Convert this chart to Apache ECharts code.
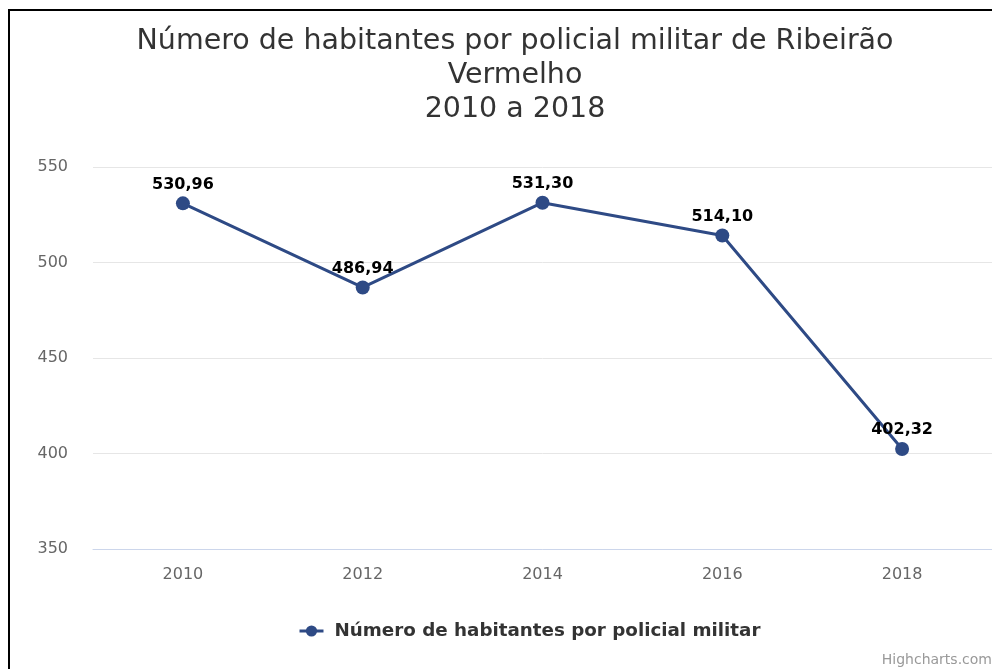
<!DOCTYPE html>
<html>
<head>
<meta charset="utf-8">
<script src="https://cdn.jsdelivr.net/npm/echarts@6/dist/echarts.min.js"></script>
<style>
    html, body { margin: 0; padding: 0; background: #fff; }
    #chart { width: 992px; height: 669px; }
</style>
</head>
<body>
<div id="chart"></div>
<script>
var anos = ['2010', '2012', '2014', '2016', '2018'];
var habitantesPorPolicial = [530.96, 486.94, 531.30, 514.10, 402.32];
var yTicks = [350, 400, 450, 500, 550];

var chart = echarts.init(document.getElementById('chart'));

var option = {
    backgroundColor: '#fff',
    textStyle: { fontFamily: 'DejaVu Sans' },
    title: {
        text: 'Número de habitantes por policial militar de Ribeirão\nVermelho\n2010 a 2018',
        left: 510,
        top: 20,
        textAlign: 'center',
        textStyle: {
            fontFamily: 'DejaVu Sans',
            fontSize: 28.5,
            fontWeight: 'normal',
            color: '#333',
            lineHeight: 34
        }
    },
    graphic: [
        {
            type: 'rect',
            shape: { x: 9, y: 10, width: 1100, height: 800 },
            style: { fill: 'none', stroke: '#000', lineWidth: 2 },
            silent: true
        },
        {
            type: 'text',
            right: 0,
            bottom: 2,
            style: { text: 'Highcharts.com', fill: '#999', fontSize: 14, fontFamily: 'DejaVu Sans' }
        }
    ],
    legend: {
        left: 293,
        top: 617,
        itemWidth: 24,
        itemHeight: 14,
        lineStyle: { width: 3 },
        textStyle: { fontSize: 18.3, fontWeight: 'bold', color: '#333', fontFamily: 'DejaVu Sans', padding: [0, 0, 0, 6] },
        data: ['Número de habitantes por policial militar']
    },
    grid: {
        left: 93,
        top: 167,
        width: 902,
        height: 382,
        containLabel: false
    },
    xAxis: {
        type: 'category',
        data: anos,
        boundaryGap: true,
        axisLine: { lineStyle: { color: '#ccd6eb', width: 1 } },
        axisTick: { show: false },
        axisLabel: { color: '#666', fontSize: 16, margin: 18 }
    },
    yAxis: {
        type: 'value',
        min: yTicks[0],
        max: yTicks[yTicks.length - 1],
        interval: 50,
        axisLine: { show: false },
        axisTick: { show: false },
        splitLine: { lineStyle: { color: '#e6e6e6', width: 1 } },
        axisLabel: { color: '#666', fontSize: 16, margin: 25 }
    },
    series: [
        {
            name: 'Número de habitantes por policial militar',
            type: 'line',
            data: habitantesPorPolicial,
            symbol: 'circle',
            symbolSize: 14,
            color: '#2e4a85',
            lineStyle: { width: 3, color: '#2e4a85' },
            label: {
                show: true,
                position: 'top',
                distance: 4,
                color: '#000',
                fontSize: 16,
                fontWeight: 'bold',
                fontFamily: 'DejaVu Sans',
                formatter: function (p) {
                    return p.value.toFixed(2).replace('.', ',');
                }
            }
        }
    ]
};

chart.setOption(option);
</script>
</body>
</html>
